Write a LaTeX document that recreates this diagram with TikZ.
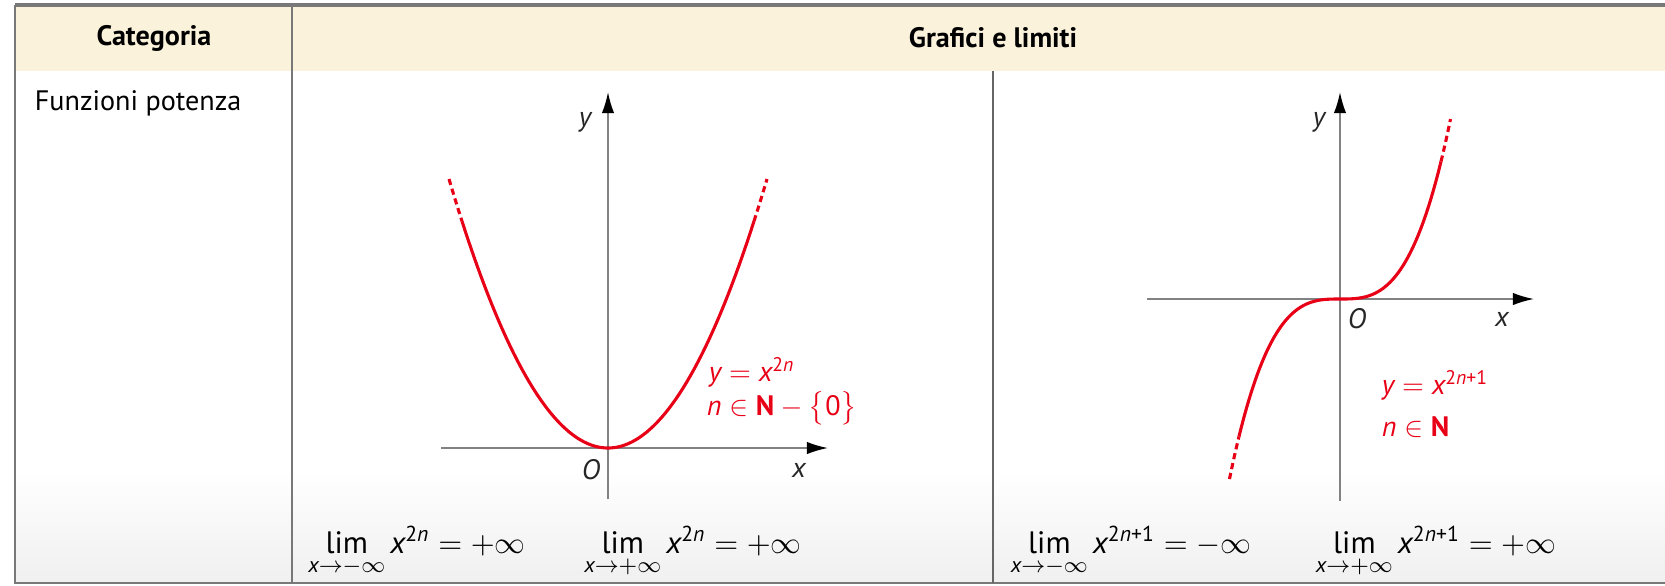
\documentclass[tikz,border=0pt]{standalone}
\usepackage{amsmath}
\usepackage{fontspec}
\setmainfont{PT Sans}
\usepackage{tikz}
\usetikzlibrary{arrows.meta, positioning}
\definecolor{headcream}{RGB}{250, 242, 218}
\definecolor{rulegray}{RGB}{120, 120, 120}
\definecolor{axisgray}{RGB}{130, 130, 130}
\definecolor{curvered}{RGB}{232, 0, 22}
\newcommand{\vx}{\textit{x}}
\newcommand{\vy}{\textit{y}}
\newcommand{\vn}{\textit{n}}
\newcommand{\slim}{\mathop{\text{lim}}\limits}

\begin{document}
\begin{tikzpicture}[x=0.0125cm, y=-0.0125cm,
  every node/.style={font=\fontsize{10}{12}\selectfont},
  rule/.style={draw=rulegray, line width=0.7pt},
  axis/.style={draw=axisgray, line width=0.6pt, -{Latex[length=7.5pt, width=4.4pt, color=black]}},
  curve/.style={draw=curvered, line width=1.1pt},
  tail/.style={curve, dash pattern=on 2.2pt off 1.4pt},
  axlabel/.style={font=\fontsize{10}{12}\selectfont\itshape, text=black!85},
  redlabel/.style={text=curvered, anchor=west},
  limit/.style={anchor=base, font=\fontsize{11}{13}\selectfont}]

\useasboundingbox (0,0) rectangle (1665,585);

% Table
\fill[headcream] (15,5) rectangle (1665,71);
\shade[top color=white, bottom color=black!6] (15,470) rectangle (1665,583);
\draw[rule, line width=1.2pt] (15,5) -- (1665,5);
\draw[rule] (15,5) -- (15,583) -- (1665,583);
\draw[rule] (292,5) -- (292,583);
\draw[black!60, line width=0.5pt] (993,71) -- (993,583);

% Header and category
\node[font=\bfseries] at (154,38) (cat) {Categoria};
\node[font=\bfseries] at (993,38) (graf) {Grafici e limiti};
\node[anchor=west] at (25,103) (pot) {Funzioni potenza};

% Graph 1: even power
\coordinate (o1) at (608,448);
\coordinate (x1l) at (441,448);
\coordinate (x1r) at (828,448);
\coordinate (y1b) at (608,499);
\coordinate (y1t) at (608,92);
\draw[axis] (x1l) -- (x1r);
\draw[axis] (y1b) -- (y1t);
\draw[tail] plot[domain=-159:-146, samples=10] ({608+\x},{448-269*(\x/159)^2});
\draw[curve] plot[domain=-146:146, samples=80] ({608+\x},{448-269*(\x/159)^2});
\draw[tail] plot[domain=146:159, samples=10] ({608+\x},{448-269*(\x/159)^2});
\node[axlabel] at (585,122) (y1lab) {y};
\node[axlabel] at (591,470) (o1lab) {O};
\node[axlabel] at (799,470) (x1lab) {x};
\node[redlabel] at (699,372) (eq1) {$\vy = \vx^{\text{2\textit{n}}}$};
\node[redlabel] at (697,408) (dom1) {$\vn \in \textbf{N} - \bigl\{\text{0}\bigr\}$};

% Graph 2: odd power
\coordinate (o2) at (1340,299);
\coordinate (x2l) at (1147,299);
\coordinate (x2r) at (1534,299);
\coordinate (y2b) at (1340,501);
\coordinate (y2t) at (1340,92);
\draw[axis] (x2l) -- (x2r);
\draw[axis] (y2b) -- (y2t);
\draw[tail] plot[domain=-110.5:-101, samples=10] ({1340+\x},{299-180*(\x/110.5)^3});
\draw[curve] plot[domain=-101:101, samples=80] ({1340+\x},{299-180*(\x/110.5)^3});
\draw[tail] plot[domain=101:110.5, samples=10] ({1340+\x},{299-180*(\x/110.5)^3});
\node[axlabel] at (1319,122) (y2lab) {y};
\node[axlabel] at (1357,319) (o2lab) {O};
\node[axlabel] at (1502,319) (x2lab) {x};
\node[redlabel] at (1372,385) (eq2) {$\vy = \vx^{\text{2\textit{n}+1}}$};
\node[redlabel] at (1372,427) (dom2) {$\vn \in \textbf{N}$};

% Limits
\node[limit] at (417,553) (lim1) {$\slim_{\vx\to-\infty} \vx^{\text{2\textit{n}}} = +\infty$};
\node[limit] at (693,553) (lim2) {$\slim_{\vx\to+\infty} \vx^{\text{2\textit{n}}} = +\infty$};
\node[limit] at (1131,553) (lim3) {$\slim_{\vx\to-\infty} \vx^{\text{2\textit{n}+1}} = -\infty$};
\node[limit] at (1436,553) (lim4) {$\slim_{\vx\to+\infty} \vx^{\text{2\textit{n}+1}} = +\infty$};

\end{tikzpicture}
\end{document}
